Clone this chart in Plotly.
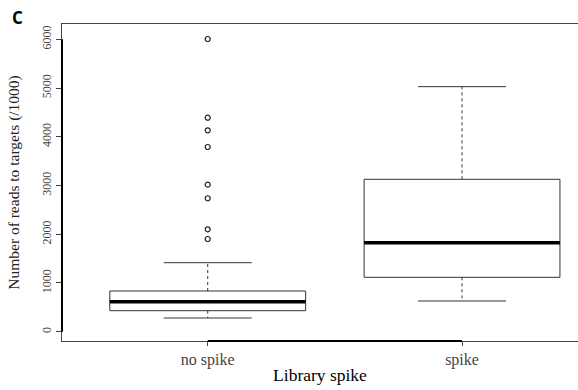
import plotly.graph_objects as go

# ---- data ----
categories = ["no spike", "spike"]
lower_whisker = [281, 630]
q1 = [431, 1116]
median = [616, 1827]
q3 = [835, 3127]
upper_whisker = [1416, 5028]
outliers_no_spike = [6006, 4391, 4133, 3790, 3017, 2738, 2101, 1902]
y_ticks = [0, 1000, 2000, 3000, 4000, 5000, 6000]

box_half = 0.385
cap_half = 0.173
line_col = "#333333"

fig = go.Figure()
xpos = [i + 1 for i in range(len(categories))]

for i, x in enumerate(xpos):
    # box
    fig.add_trace(go.Scatter(
        x=[x - box_half, x + box_half, x + box_half, x - box_half, x - box_half],
        y=[q1[i], q1[i], q3[i], q3[i], q1[i]],
        mode="lines", line=dict(color=line_col, width=1),
        fill="toself", fillcolor="white", showlegend=False, hoverinfo="skip"))
    # median
    fig.add_trace(go.Scatter(
        x=[x - box_half, x + box_half], y=[median[i], median[i]],
        mode="lines", line=dict(color="black", width=3.5),
        showlegend=False, hoverinfo="skip"))
    # whiskers (dashed)
    fig.add_trace(go.Scatter(
        x=[x, x, None, x, x],
        y=[q3[i], upper_whisker[i], None, q1[i], lower_whisker[i]],
        mode="lines", line=dict(color=line_col, width=1, dash="3px,3px"),
        showlegend=False, hoverinfo="skip"))
    # staples
    fig.add_trace(go.Scatter(
        x=[x - cap_half, x + cap_half, None, x - cap_half, x + cap_half],
        y=[upper_whisker[i], upper_whisker[i], None, lower_whisker[i], lower_whisker[i]],
        mode="lines", line=dict(color=line_col, width=1),
        showlegend=False, hoverinfo="skip"))

# outliers
fig.add_trace(go.Scatter(
    x=[xpos[0]] * len(outliers_no_spike), y=outliers_no_spike,
    mode="markers",
    marker=dict(symbol="circle-open", size=5, color="#222222", line=dict(width=1.2)),
    showlegend=False, hoverinfo="skip", cliponaxis=False))

serif = "Liberation Serif, Times New Roman, serif"

fig.update_layout(
    width=578, height=390,
    margin=dict(l=62, r=0, t=24, b=49),
    plot_bgcolor="white", paper_bgcolor="white",
    xaxis=dict(
        range=[0.427, 2.456], tickvals=xpos, ticktext=categories,
        showgrid=False, zeroline=False,
        showline=True, linecolor="#444444", linewidth=1, mirror=True,
        ticks="outside", ticklen=4, tickcolor="#444444",
        tickfont=dict(family=serif, size=16, color="#444444"),
        title=dict(text="Library spike", font=dict(family=serif, size=17.5, color="black"), standoff=0),
    ),
    yaxis=dict(
        range=[-191, 6314], tickvals=y_ticks,
        showgrid=False, zeroline=False,
        showline=True, linecolor="#444444", linewidth=1,
        ticks="outside", ticklen=5, tickcolor="#444444",
        tickangle=-90,
        tickfont=dict(family=serif, size=12, color="#444444"),
        title=dict(text="Number of reads to targets (/1000)",
                   font=dict(family=serif, size=15.5, color="#222222"), standoff=16),
    ),
    shapes=[
        dict(type="line", xref="paper", yref="y", x0=0, x1=0, y0=y_ticks[0], y1=y_ticks[-1],
             line=dict(color="black", width=2)),
        dict(type="line", xref="x", yref="paper", x0=xpos[0], x1=xpos[-1], y0=0, y1=0,
             line=dict(color="black", width=2)),
    ],
    annotations=[
        dict(text="<b>C</b>", xref="paper", yref="paper", x=-0.1, y=1.063,
             xanchor="left", yanchor="top", showarrow=False,
             font=dict(family="Open Sans, Noto Sans, sans-serif", size=17, color="black")),
    ],
)

fig.write_html("out.html")
